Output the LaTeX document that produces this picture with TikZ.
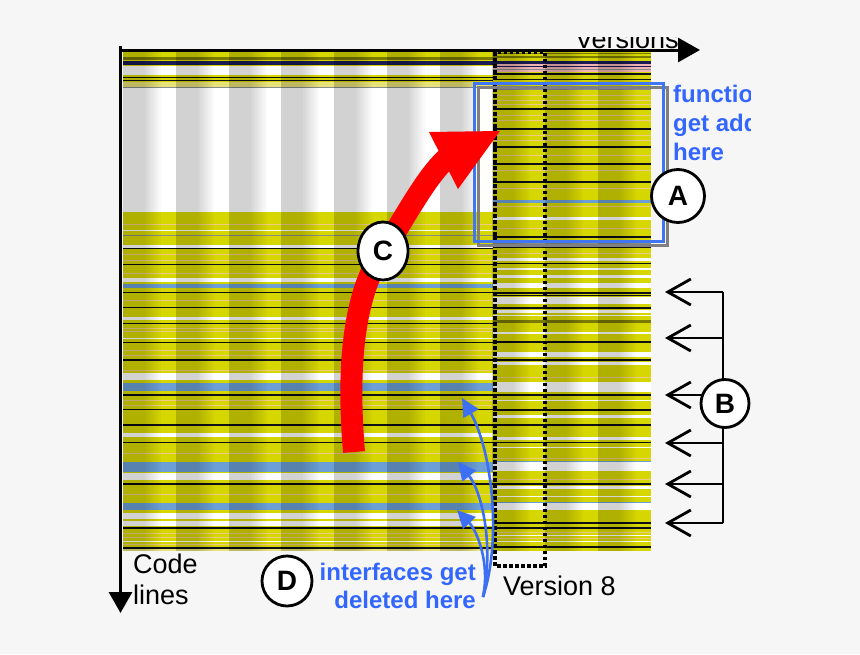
\documentclass[tikz,border=0pt]{standalone}
\usepackage{fontspec}
\setmainfont{Liberation Sans}
\usetikzlibrary{arrows.meta,shapes.geometric}
\definecolor{bg}{HTML}{F6F6F6}
\definecolor{yel}{HTML}{D6D600}
\definecolor{lyel}{HTML}{E8E27A}
\definecolor{wht}{HTML}{FFFFFF}
\definecolor{blu}{HTML}{6B9FD6}
\definecolor{blk}{HTML}{101018}
\definecolor{nav}{HTML}{1C1C55}
\definecolor{org}{HTML}{EEC98A}
\definecolor{pnk}{HTML}{F0B4B4}
\definecolor{gry}{HTML}{8C8C8C}
\definecolor{olv}{HTML}{7A7A00}
\definecolor{txtblue}{HTML}{3366FF}
\definecolor{boxblue}{HTML}{4076F2}
\definecolor{boxgray}{HTML}{808080}
\definecolor{arrblue}{HTML}{3D6FF2}
\tikzset{
  axisline/.style={line width=3pt,black},
  dotline/.style={line width=3.2pt,black,dash pattern=on 3.5pt off 2.5pt},
  letter/.style={draw,line width=2.8pt,fill=white,inner sep=0pt,font=\fontsize{28}{28}\selectfont\bfseries},
  bluetext/.style={text=txtblue,font=\fontsize{24}{28}\selectfont\bfseries,inner sep=0pt},
  blacktext/.style={text=black,font=\fontsize{27}{31}\selectfont,inner sep=0pt},
  barb/.style={line width=2.8pt,-{Straight Barb[length=23pt,width=26pt]}},
  darrow/.style={line width=2.6pt,arrblue,-{Triangle[length=18pt,width=17pt]}}
}
\begin{document}
\begin{tikzpicture}[x=1pt,y=-1pt]
\fill[bg] (0,0) rectangle (860,654);
\useasboundingbox (0,0) rectangle (860,654);
% base of the chart
\fill[yel] (123,52) rectangle (650.5,551);
% left part stripes
\foreach \y/\h/\c in {57/2.5/olv,61/3.5/nav,66/9/wht,77/1.2/blk,79.5/1.2/blk,81.5/5.5/lyel,87/1/gry,88/124/wht,224/1/org,229.5/1.5/wht,235/1/gry,244.5/3/wht,248/1.2/blk,254/1/org,260/1/org,264/1.2/blk,273/1/org,278/4/wht,283.5/4/blu,291.5/1.2/blk,300/1/org,307/1.3/blk,316.5/3/wht,322.5/1.5/blk,328/1/org,331/1/org,337.5/1.5/wht,342/1.2/blk,350/1/org,355/1/org,359/2/blk,370/1/org,373/7/wht,383/8/blu,394/1.5/blk,400/1/org,405/1/org,409/1.2/blk,424/2/blk,433/4/wht,442/1.2/blk,453/1/org,462/10/blu,473/7/wht,483/1.5/blk,494/1/org,503/7/blu,512.5/6.5/wht,521/5/wht,527/1.5/blk,533/1/org,537/1/org,541/1/wht,544/1/org,547/1.5/blk,549/2/lyel}
  {\fill[\c] (123,\y) rectangle (493,\y+\h);}
% right part stripes
\foreach \y/\h/\c in {53/1/olv,56/2/olv,61/2.5/nav,64/8/pnk,66/0.8/nav,69/0.8/gry,73/1.5/blk,79/1.2/blk,82/3/blu,86/4/gry,95/1/org,100/1/org,104/1/org,108/1.5/blk,115/1/org,120/1/org,128/1.5/blk,135/1/org,140/1/org,146/1.5/blk,155/1/org,163/1.5/blk,170/1/org,181/2/blk,188/1/org,200/2.5/blu,206/1/org,217/3/wht,228/1/org,236/1.5/blk,240/1/blu,242/3/gry,247/1.2/blk,253/1/org,258/3/wht,263/1.2/blk,268/2/wht,275/3/wht,283/5/wht,292/1.5/blk,295/1/blk,297/7/wht,307/1.5/blk,310/3/wht,315/1/wht,320/3/olv,332/2/wht,341/1.5/blk,352/5/wht,359/2/blk,362/3/wht,377/1/org,382/10/wht,394/1.5/blk,400/1/wht,409/1.5/blk,415/3/wht,424/2/blk,437/3/wht,442/1.2/blk,447/1/wht,458/1/org,461/1/blu,462/9/wht,479/1/org,483/1.5/blk,486/3/wht,496/1/wht,502/1/blu,503/7/wht,522/1.5/blk,527/1.5/blk,532/1/org,535/1/wht,538/1/org,541/1/wht,546/1.5/blk}
  {\fill[\c] (493,\y) rectangle (650.5,\y+\h);}
% column shading: stacked thin layers give a dark left part fading out to the right
\foreach \k in {0,...,9}{
  \pgfmathsetmacro\xo{123+52.75*\k}
  \foreach \i in {0,...,8}{
    \fill[black,opacity=.02] (\xo,52) rectangle (\xo+22+2*\i,551);
  }
}
% version 8 dotted frame
\draw[dotline] (495,52) rectangle (545,566);
% box A
\draw[line width=3pt,boxgray] (478,87) rectangle (667,245);
\draw[line width=3pt,boxblue] (474,83) rectangle (663,241);
% axes
\coordinate (o) at (120.5,46);
\coordinate (ydown) at (120.5,613);
\coordinate (ox) at (119,50);
\coordinate (xright) at (700,50);
\draw[axisline,-{Triangle[length=21pt,width=23pt]}] (o) -- (ydown);
\draw[axisline,-{Triangle[length=22pt,width=24pt]}] (ox) -- (xright);
\begin{scope}
  \clip (0,37) rectangle (860,654);
  \node[blacktext,anchor=base west] (versions) at (575,48) {Versions};
\end{scope}
% red arrow C
\coordinate (cstart) at (354,452);
\coordinate (cmid) at (383,251);
\coordinate (cend) at (447,158);
\draw[red,line width=22pt] (cstart) .. controls (348,380) and (350,300) .. (cmid)
   .. controls (405,218) and (425,178) .. (cend);
\fill[red] (429,132) -- (500,131) -- (458,189) -- cycle;
\node[letter,ellipse,minimum width=50pt,minimum height=58pt] (C) at (383,251) {C};
% texts
\begin{scope}
  \clip (0,0) rectangle (750,654);
  \node[bluetext,anchor=base west] (f1) at (673,102) {functions};
  \node[bluetext,anchor=base west] (f2) at (673,131) {get added};
  \node[bluetext,anchor=base west] (f3) at (673,160) {here};
\end{scope}
\node[letter,circle,minimum size=53pt] (A) at (678,196) {A};
% B bracket
\coordinate (bt) at (723,292);
\coordinate (bb) at (723,523);
\draw[line width=2.8pt] (bt) -- (bb);
\foreach \i/\y in {1/292,2/338,3/395,4/443,5/484,6/523}{
  \coordinate (bs\i) at (723,\y);
  \coordinate (be\i) at (665,\y);
  \draw[barb] (bs\i) -- (be\i);
}
\node[letter,circle,minimum size=48pt] (B) at (725,403.5) {B};
% D arrows
\coordinate (ds) at (483,597);
\coordinate (d1) at (462,398);
\coordinate (d2) at (458,462);
\coordinate (d3) at (457,510);
\draw[darrow] (ds) .. controls (502,540) and (492,450) .. (d1);
\draw[darrow] (ds) .. controls (494,545) and (482,492) .. (d2);
\draw[darrow] (ds) .. controls (490,565) and (478,532) .. (d3);
\node[letter,circle,minimum size=50pt] (D) at (287,581) {D};
\node[bluetext,anchor=base east] (i1) at (476,580) {interfaces get};
\node[bluetext,anchor=base east] (i2) at (476,608) {deleted here};
\node[blacktext,anchor=base west] (code) at (133,573) {Code};
\node[blacktext,anchor=base west] (lines) at (133,604) {lines};
\node[blacktext,anchor=base west] (v8) at (503,595) {Version 8};
\end{tikzpicture}
\end{document}
